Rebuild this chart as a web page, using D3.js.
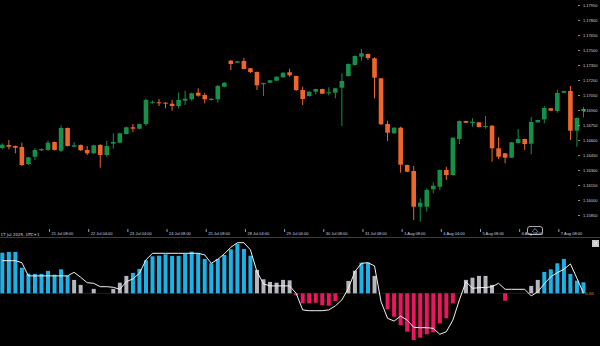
<!DOCTYPE html>
<html>
<head>
<meta charset="utf-8">
<script src="https://cdn.jsdelivr.net/npm/d3@7"></script>
<style>
  html, body { margin: 0; padding: 0; background: #000; }
  svg { display: block; font-family: "DejaVu Sans", sans-serif; }
</style>
</head>
<body>
<script>
// 4H candles
const opens = [
  1.16520,1.16550,1.16540,1.16530,1.16360,1.16433,1.16497,1.16500,1.16580,1.16493,
  1.16720,1.16533,1.16550,1.16500,1.16467,1.16550,1.16450,1.16563,1.16573,1.16660,
  1.16727,1.16713,1.16760,1.16977,1.16977,1.16973,1.16963,1.16940,1.16993,1.17007,
  1.17073,1.17050,1.17000,1.17007,1.17133,1.17393,1.17373,1.17390,1.17317,1.17280,
  1.17157,1.17173,1.17193,1.17227,1.17277,1.17240,1.17100,1.17040,1.17083,1.17110,
  1.17067,1.17073,1.17123,1.17240,1.17350,1.17433,1.17460,1.17417,1.17217,1.16760,
  1.16667,1.16723,1.16350,1.16290,1.15933,1.15933,1.16107,1.16133,1.16300,1.16250,
  1.16610,1.16790,1.16770,1.16777,1.16730,1.16743,1.16517,1.16467,1.16423,1.16570,
  1.16610,1.16563,1.16777,1.16807,1.16917,1.16890,1.17073,1.17090,1.16693,1.16890
];
const highs = [
  1.16567,1.16600,1.16545,1.16573,1.16433,1.16517,1.16515,1.16593,1.16585,1.16747,
  1.16725,1.16580,1.16555,1.16540,1.16553,1.16560,1.16593,1.16667,1.16673,1.16733,
  1.16760,1.16765,1.17013,1.16995,1.17010,1.16978,1.17000,1.17073,1.17093,1.17073,
  1.17117,1.17073,1.17017,1.17150,1.17178,1.17400,1.17390,1.17423,1.17320,1.17285,
  1.17173,1.17200,1.17237,1.17277,1.17313,1.17245,1.17133,1.17087,1.17113,1.17113,
  1.17127,1.17120,1.17267,1.17365,1.17445,1.17510,1.17465,1.17427,1.17220,1.16793,
  1.16728,1.16733,1.16355,1.16340,1.16017,1.16117,1.16177,1.16307,1.16333,1.16628,
  1.16795,1.16793,1.16817,1.16780,1.16840,1.16748,1.16627,1.16470,1.16580,1.16710,
  1.16613,1.16830,1.16803,1.16940,1.16920,1.17100,1.17093,1.17140,1.16825,1.16930
];
const lows = [
  1.16507,1.16507,1.16467,1.16340,1.16350,1.16400,1.16490,1.16493,1.16495,1.16480,
  1.16535,1.16527,1.16492,1.16450,1.16460,1.16323,1.16433,1.16513,1.16567,1.16655,
  1.16680,1.16708,1.16740,1.16965,1.16940,1.16917,1.16893,1.16917,1.16950,1.16993,
  1.17033,1.16967,1.16995,1.16973,1.17128,1.17300,1.17370,1.17307,1.17270,1.17100,
  1.17040,1.17170,1.17190,1.17223,1.17233,1.17090,1.16950,1.17035,1.17057,1.17060,
  1.17047,1.17017,1.16740,1.17235,1.17345,1.17393,1.17400,1.17017,1.16752,1.16590,
  1.16662,1.16273,1.16278,1.15800,1.15783,1.15883,1.16067,1.16100,1.16200,1.16245,
  1.16560,1.16770,1.16733,1.16725,1.16713,1.16383,1.16410,1.16367,1.16420,1.16565,
  1.16500,1.16457,1.16773,1.16767,1.16890,1.16873,1.17070,1.16600,1.16533,1.16827
];
const closes = [
  1.16553,1.16533,1.16523,1.16350,1.16427,1.16500,1.16510,1.16573,1.16500,1.16720,
  1.16540,1.16547,1.16497,1.16467,1.16547,1.16450,1.16540,1.16580,1.16667,1.16727,
  1.16713,1.16760,1.17000,1.16982,1.16967,1.16963,1.16940,1.17000,1.17013,1.17067,
  1.17043,1.17007,1.17013,1.17140,1.17173,1.17360,1.17387,1.17310,1.17280,1.17147,
  1.17170,1.17197,1.17233,1.17273,1.17247,1.17100,1.17010,1.17083,1.17110,1.17063,
  1.17077,1.17117,1.17190,1.17360,1.17440,1.17467,1.17420,1.17223,1.16757,1.16673,
  1.16723,1.16353,1.16283,1.15933,1.15973,1.16100,1.16143,1.16300,1.16250,1.16623,
  1.16790,1.16773,1.16783,1.16730,1.16740,1.16517,1.16433,1.16423,1.16577,1.16610,
  1.16560,1.16780,1.16800,1.16920,1.16893,1.17070,1.17090,1.16693,1.16820,1.16910
];

// lower panel oscillator (histogram + signal line)
const histValues = [
  20.3,20.7,20.7,12.8,9.8,9.7,9.7,11.2,9.3,12.0,
  8.8,6.7,4.2,0,2.2,0,0,2.2,5.3,8.7,
  10.2,12.2,16.5,18.5,18.8,19.5,18.7,18.7,19.7,20.8,
  20.0,17.2,15.0,17.2,19.2,22.0,24.8,22.2,18.8,11.7,
  7.0,5.7,5.3,6.7,6.5,-1.0,-5.0,-5.0,-4.7,-5.9,
  -6.2,-3.9,0,6.2,11.3,15.3,15.3,8.7,0,-8.0,
  -11.7,-15.9,-19.2,-23.4,-22.2,-20.5,-19.5,-15.0,-12.5,-5.0,
  0,6.7,7.8,8.7,8.7,4.2,0,-3.7,0,0,
  0,3.7,6.7,10.7,12.0,15.0,17.2,9.7,6.3,5.5
];
const histTone = [
  'up','up','up','up','up','up','up','up','up','up',
  'up','flat','flat','flat','flat','flat','flat','flat','flat','flat',
  'up','up','up','up','up','up','up','up','up','up',
  'up','up','up','up','up','up','up','up','up','flat',
  'flat','flat','flat','flat','flat','down','down','down','down','down',
  'down','down','flat','flat','flat','up','up','flat','down','down',
  'down','down','down','down','down','down','down','down','down','down',
  'flat','flat','flat','flat','flat','flat','flat','down','flat','flat',
  'flat','flat','flat','up','up','up','up','up','up','up'
];
const signalValues = [
  16.3,16.3,16.3,15.3,8.7,8.7,8.7,8.7,8.7,8.7,
  8.7,10.5,8.0,5.3,5.0,3.3,3.3,3.0,2.0,5.8,
  7.2,10.0,16.7,20.0,20.0,20.0,20.0,20.0,20.0,20.0,
  20.0,19.2,15.0,17.0,19.7,23.0,25.3,25.3,21.7,10.8,
  4.7,3.7,3.7,3.7,3.7,0,-8.3,-8.7,-8.7,-8.7,
  -8.3,-6.3,-3.3,2.5,10.8,15.0,15.3,13.7,-4.2,-12.5,
  -13.9,-11.4,-13.4,-17.0,-17.2,-17.2,-17.5,-20.5,-19.2,-13.4,
  -3.3,5.8,2.5,2.8,2.9,3.3,5.0,2.0,2.0,2.0,
  2.0,-1.3,0.8,4.7,8.3,10.3,12.0,14.7,7.5,0
];

const priceTicks = [1.1795,1.1780,1.1765,1.1750,1.1735,1.1720,1.1705,1.1690,
                    1.1675,1.1660,1.1645,1.1630,1.1615,1.1600,1.1585];
const dateIndex = [7,13,19,25,31,37,43,49,55,61,67,73,79,85];
const dateLabels = ['21 Jul 08:00','22 Jul 04:00','23 Jul 04:00','24 Jul 08:00','25 Jul 08:00',
                    '28 Jul 04:00','29 Jul 04:00','30 Jul 08:00','31 Jul 08:00','1 Aug 08:00',
                    '4 Aug 04:00','5 Aug 08:00','6 Aug 08:00','7 Aug 08:00'];
const firstLabel = '17 Jul 2025, UTC+1';

const W = 600, H = 346;
const upCol = '#14904a', downCol = '#f0652c';
const toneCol = {up: '#1cb2e8', flat: '#b6b6be', down: '#ea1660'};

const svg = d3.select('body').append('svg')
  .attr('width', W).attr('height', H);
svg.append('rect').attr('width', W).attr('height', H).attr('fill', '#000');

let x = d3.scaleLinear().domain([0, opens.length - 1]).range([2.3, 2.3 + 6.53 * (opens.length - 1)]);
let y = d3.scaleLinear().domain([1.1571, 1.1800]).range([229, 0]);
let hy = d3.scaleLinear().domain([-26.35, 26.65]).range([346, 240]);

// candles
const candles = svg.append('g');
opens.forEach((o, i) => {
  const c = closes[i];
  const col = c >= o ? upCol : downCol;
  candles.append('line')
    .attr('x1', x(i)).attr('x2', x(i))
    .attr('y1', y(highs[i])).attr('y2', y(lows[i]))
    .attr('stroke', col).attr('stroke-width', 1);
  const top = y(Math.max(o, c)), bot = y(Math.min(o, c));
  candles.append('rect')
    .attr('x', x(i) - 2.3).attr('width', 4.6)
    .attr('y', top).attr('height', Math.max(1, bot - top))
    .attr('fill', col);
});

// price axis
const py = svg.append('g')
  .attr('transform', 'translate(578,0)')
  .call(d3.axisRight(y).tickValues(priceTicks).tickSize(2).tickPadding(3)
    .tickFormat(d3.format('.5f')));
py.select('.domain').remove();
py.selectAll('line').attr('stroke', '#8a8a9a');
py.selectAll('text').attr('fill', '#cfd3de').style('font-size', '4px');

// time axis
const tx = svg.append('g')
  .attr('transform', 'translate(0,229)')
  .call(d3.axisBottom(x).tickValues(dateIndex).tickSize(3)
    .tickFormat((d, i) => dateLabels[i]));
tx.select('.domain').remove();
tx.selectAll('.tick line').attr('stroke', '#9a9aa6').attr('transform', 'translate(1,0)');
tx.selectAll('.tick text').attr('text-anchor', 'start').attr('x', 3).attr('y', 3.2)
  .attr('fill', '#c8d0e0').style('font-size', '4px');
svg.append('text').attr('x', 0.5).attr('y', 235.5).text(firstLabel)
  .attr('fill', '#c8d0e0').style('font-size', '4px');

svg.append('line').attr('x1', 0).attr('x2', W).attr('y1', 237.5).attr('y2', 237.5)
  .attr('stroke', '#3c3c44').attr('stroke-width', 1);

// small scroll button on the time axis
svg.append('rect').attr('x', 527.5).attr('y', 226.5).attr('width', 15).attr('height', 8).attr('rx', 2.5)
  .attr('fill', 'none').attr('stroke', '#d8d8d8').attr('stroke-width', 0.8);
svg.append('path').attr('d', 'M532,232 L535,228.5 L538,232')
  .attr('fill', 'none').attr('stroke', '#4fb0e0').attr('stroke-width', 0.8);

// oscillator panel
svg.append('line').attr('x1', 0).attr('x2', 584).attr('y1', hy(0)).attr('y2', hy(0))
  .attr('stroke', '#1c1e2c').attr('stroke-width', 1);

svg.append('g').selectAll('rect')
  .data(histValues)
  .join('rect')
  .attr('x', (d, i) => x(i) - 2)
  .attr('width', 4)
  .attr('y', d => hy(Math.max(d, 0)))
  .attr('height', d => Math.abs(hy(d) - hy(0)))
  .attr('fill', (d, i) => toneCol[histTone[i]]);

svg.append('path')
  .datum(signalValues)
  .attr('d', d3.line().x((d, i) => x(i)).y(d => hy(d)))
  .attr('fill', 'none').attr('stroke', '#f2f2f2').attr('stroke-width', 1);

svg.append('text').attr('x', 585).attr('y', 295).text('0.00')
  .attr('fill', '#d0883a').style('font-size', '4px');

// close box of the sub window
svg.append('rect').attr('x', 592).attr('y', 240).attr('width', 7).attr('height', 7)
  .attr('fill', '#c8c8c8');
svg.append('path').attr('d', 'M593.8,241.8 L597.2,245.2 M597.2,241.8 L593.8,245.2')
  .attr('stroke', '#f4f4f4').attr('stroke-width', 0.8);
</script>
</body>
</html>
